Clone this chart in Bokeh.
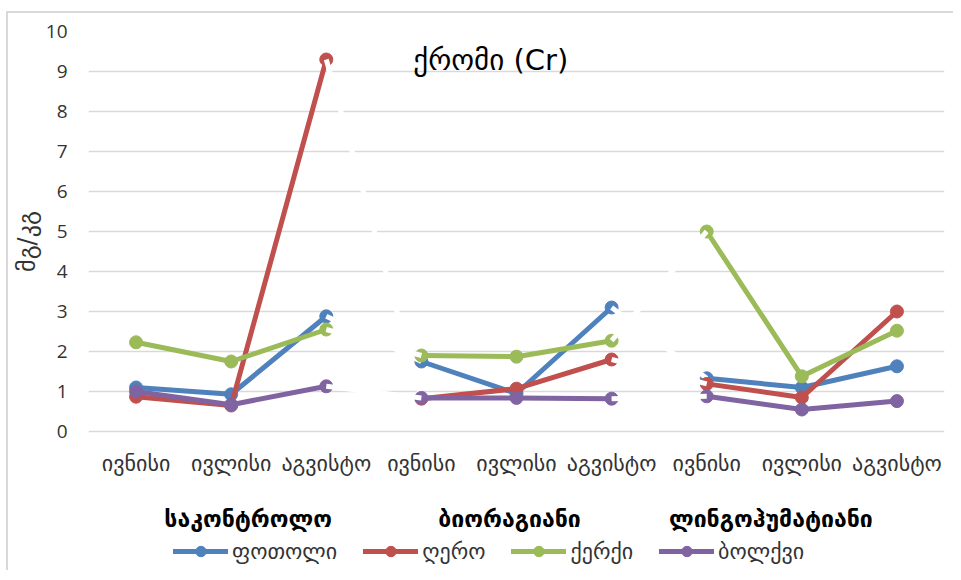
import numpy as np
from bokeh.plotting import figure
from bokeh.models import Range1d, FixedTicker, LinearAxis, Legend, LegendItem, Label
from bokeh.core.properties import value
from bokeh.embed import file_html
from bokeh.resources import INLINE

# ---- data ----
groups = ["საკონტროლო", "ბიორაგიანი", "ლინგოჰუმატიანი"]
months = ["ივნისი", "ივლისი", "აგვისტო"]
series_names = ["ფოთოლი", "ღერო", "ქერქი", "ბოლქვი"]

leaf = [1.10, 0.93, 2.88, 1.75, 0.95, 3.10, 1.33, 1.10, 1.63]
stem = [0.87, 0.65, 9.30, 0.82, 1.07, 1.80, 1.19, 0.85, 3.00]
bark = [2.23, 1.75, 2.55, 1.90, 1.87, 2.27, 5.00, 1.38, 2.52]
bulb = [1.00, 0.67, 1.13, 0.84, 0.84, 0.82, 0.88, 0.55, 0.76]

title_text = "ქრომი (Cr)"
y_label = "მგ/კგ"
y_ticks = [0, 1, 2, 3, 4, 5, 6, 7, 8, 9, 10]

colors = ["#4F81BD", "#C0504D", "#9BBB59", "#8064A2"]
GEO = "DejaVu Sans"
NUM = "Open Sans"
TXT = "#333333"

ng, nm = len(groups), len(months)
n = ng * nm
xs_cat = [i + 0.5 for i in range(n)]

# layout: 40 px per y unit; frame extended below 0 to hold category labels and legend
PX = 40.0
y_min, y_max = -135 / PX, 10
p = figure(frame_width=856, frame_height=int(round(PX * (y_max - y_min))),
           output_backend="svg", toolbar_location=None,
           x_range=Range1d(0, n), y_range=Range1d(y_min, y_max),
           min_border_left=80, min_border_right=9, min_border_top=18,
           min_border_bottom=4)
p.styles = {"margin-top": "11px", "margin-left": "6px",
            "border-top": "2px solid #d9d9d9", "border-left": "2px solid #d9d9d9"}
p.outline_line_color = None
p.background_fill_color = "white"
p.border_fill_color = "white"
p.xaxis.visible = False

# grid
p.xgrid.grid_line_color = None
p.ygrid.grid_line_color = "#d9d9d9"
p.ygrid.grid_line_width = 1.5
p.ygrid.ticker = FixedTicker(ticks=y_ticks)

# y axis (ticks)
p.yaxis.ticker = FixedTicker(ticks=y_ticks)
p.yaxis.axis_line_color = None
p.yaxis.major_tick_line_color = None
p.yaxis.minor_tick_line_color = None
p.yaxis.major_tick_out = 0
p.yaxis.major_label_standoff = 21
p.yaxis.major_label_text_font = NUM
p.yaxis.major_label_text_font_size = "19px"
p.yaxis.major_label_text_color = TXT

# y axis title as a second left axis with a single tick
ylab_pos = 4.75
ax_lab = LinearAxis(ticker=FixedTicker(ticks=[ylab_pos]),
                    major_label_overrides={ylab_pos: y_label},
                    major_label_orientation="vertical")
ax_lab.axis_line_color = None
ax_lab.major_tick_line_color = None
ax_lab.minor_tick_line_color = None
ax_lab.major_tick_out = 0
ax_lab.major_label_standoff = 2
ax_lab.major_label_text_font = GEO
ax_lab.major_label_text_font_size = "24px"
ax_lab.major_label_text_color = TXT
p.add_layout(ax_lab, "left")

# category (month) labels
p.text(x=xs_cat, y=[-32 / PX] * n, text=[months[i % nm] for i in range(n)],
       text_font=value(GEO), text_font_size=value("22px"), text_color=TXT,
       text_align="center", text_baseline="middle")

# group labels
gx = [g * nm + nm / 2 for g in range(ng)]
gx_off = [17, -7, -31]
p.text(x=gx, y=[-87 / PX] * ng, text=groups, x_offset=gx_off,
       text_font=value(GEO), text_font_size=value("23px"), text_font_style="bold",
       text_color="black", text_align="center", text_baseline="middle")

# series
items = []
for name, vals, col in zip(series_names, [leaf, stem, bark, bulb], colors):
    lx, ly = [], []
    for g in range(ng):
        for m in range(nm):
            lx.append(xs_cat[g * nm + m]); ly.append(vals[g * nm + m])
        if g < ng - 1:
            lx.append(np.nan); ly.append(np.nan)
    r1 = p.line(lx, ly, line_color=col, line_width=5, line_cap="round", line_join="round")
    r2 = p.scatter(xs_cat, vals, size=13, fill_color=col, line_color=col)
    # white connecting segments between groups
    x0 = [xs_cat[g * nm + nm - 1] for g in range(ng - 1)]
    y0 = [vals[g * nm + nm - 1] for g in range(ng - 1)]
    x1 = [xs_cat[(g + 1) * nm] for g in range(ng - 1)]
    y1 = [vals[(g + 1) * nm] for g in range(ng - 1)]
    p.segment(x0, y0, x1, y1, line_color="white", line_width=5)
    items.append(LegendItem(label=name, renderers=[r1, r2]))

legend = Legend(items=items, orientation="horizontal", location=(85, 2),
                label_text_font=GEO, label_text_font_size="22px", label_text_color=TXT,
                glyph_width=55, glyph_height=26, label_standoff=4, spacing=26,
                border_line_color=None, background_fill_alpha=0, margin=0, padding=0)
p.add_layout(legend, "center")

p.add_layout(Label(x=4.23, y=9.3, text=title_text, text_align="center", text_baseline="middle",
                   text_font=GEO, text_font_size="29px", text_color="black"))

open("out.html", "w").write(file_html(p, INLINE))
